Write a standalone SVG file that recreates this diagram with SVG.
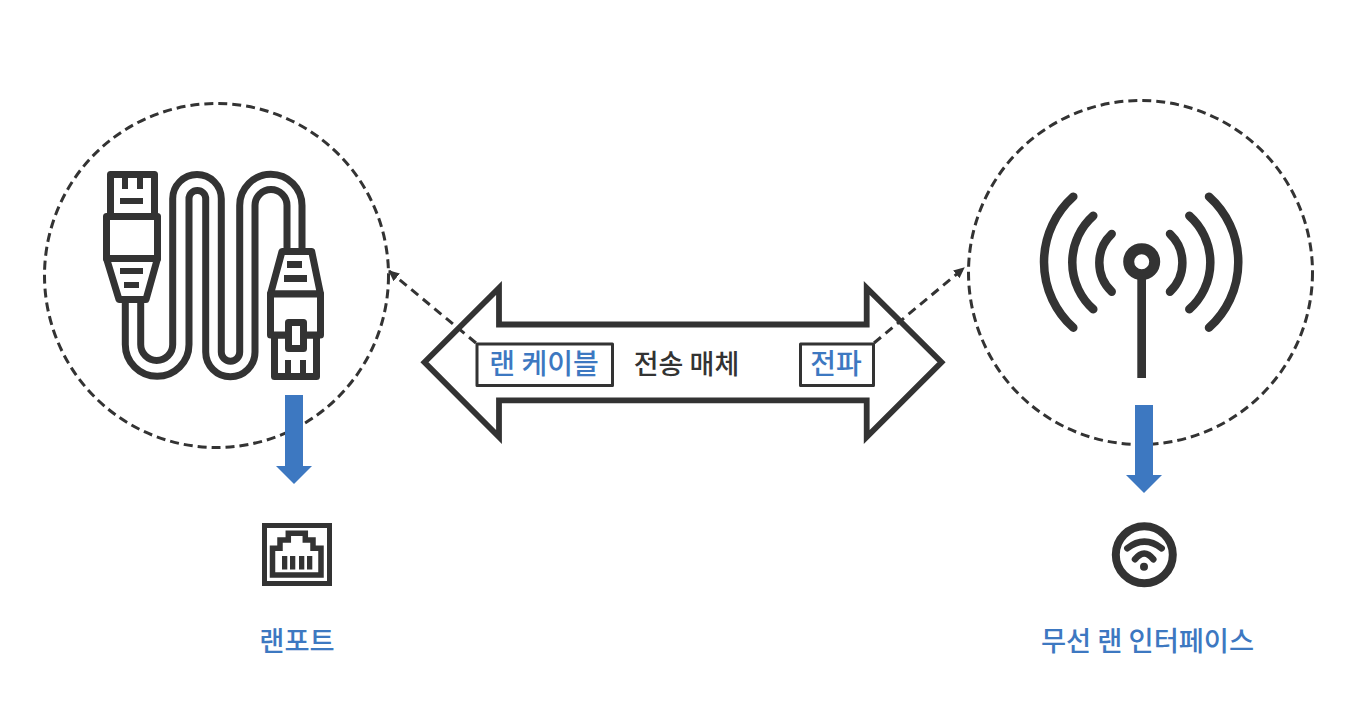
<svg xmlns="http://www.w3.org/2000/svg" width="1367" height="714" viewBox="0 0 1367 714">
<style>
text{font-family:"Noto Sans CJK KR","Noto Sans",sans-serif;text-anchor:middle;dominant-baseline:central}
.blue{fill:#3d78c1;font-weight:500}
.dark{fill:#333;font-weight:500}
.l{font-size:28px}
.s{font-size:27px}
.m{font-size:27.3px}
.ring{fill:none;stroke:#333;stroke-width:3;stroke-dasharray:9 5}
.ic{fill:none;stroke:#333;stroke-width:7;stroke-linejoin:round}
.w{fill:#fff;stroke:#333;stroke-width:7;stroke-linejoin:round}
.bar{fill:#333;stroke:none}
.box{fill:#fff;stroke:#333;stroke-width:3;stroke-linejoin:round}
.wave{fill:none;stroke:#333;stroke-width:8.5;stroke-linecap:round}
.dash{fill:none;stroke:#333;stroke-width:3;stroke-dasharray:9 6;marker-end:url(#ah)}
.ba{fill:#3d78c1;stroke:none}
</style>
<defs>
<marker id="ah" markerUnits="userSpaceOnUse" markerWidth="12" markerHeight="10" refX="10" refY="5" orient="auto"><path d="M0 0L11 5L0 10Z" fill="#333"/></marker>
</defs>
<rect width="1367" height="714" fill="#fff"/>
<g id="cable-node">
<circle class="ring" cx="216.5" cy="275.5" r="172"/>
<g id="cable-icon">
<path class="ic" d="M125.3 300V344.5A31.85 31.85 0 0 0 189 344.5V198.8A8.35 8.35 0 0 1 205.7 198.8V352A24.65 24.65 0 0 0 255 352V205.5A16 16 0 0 1 287 205.5V252"/>
<path class="ic" d="M140.7 300V344.5A16 16 0 0 0 172.7 344.5V198.8A24.3 24.3 0 0 1 221.3 198.8V352A9.2 9.2 0 0 0 239.7 352V205.5A31.15 31.15 0 0 1 302 205.5V252"/>
<path class="w" d="M110.5 216V174.5H154.5V216"/>
<path class="w" d="M106.5 258.5L119 299.5H146L157.5 258.5Z"/>
<rect class="w" x="106.500" y="216.500" width="51" height="42"/>
<rect class="bar" x="122" y="175" width="6" height="14"/>
<rect class="bar" x="137" y="175" width="6" height="14"/>
<rect class="bar" x="120" y="198" width="23" height="6"/>
<rect class="bar" x="120" y="268" width="23" height="6"/>
<rect class="bar" x="124" y="282" width="15" height="6"/>
<path class="w" d="M270.500 294L282 251.500H311.700L320.500 294Z"/>
<rect class="w" x="274.500" y="335" width="42" height="41.500"/>
<rect class="w" x="270.500" y="294" width="50" height="41"/>
<rect class="w" x="288.500" y="322.500" width="15" height="26"/>
<rect class="bar" x="287" y="261" width="15" height="7"/>
<rect class="bar" x="284" y="275" width="23" height="7"/>
<rect class="bar" x="285" y="360" width="6" height="14"/>
<rect class="bar" x="300" y="360" width="6" height="14"/>
</g>
</g>
<g id="radio-node">
<circle class="ring" cx="1140.500" cy="272.500" r="172"/>
<g id="antenna-icon">
<rect class="bar" x="1137.300" y="276" width="8.700" height="102"/>
<circle cx="1141.700" cy="261.700" r="13" fill="none" stroke="#333" stroke-width="11"/>
<path class="wave" d="M1111.700 234A39.800 39.800 0 0 0 1111.700 291.700"/>
<path class="wave" d="M1093.300 215.700A62.600 62.600 0 0 0 1093.300 309.300"/>
<path class="wave" d="M1073.300 196.700A87.900 87.900 0 0 0 1073.300 327.700"/>
<path class="wave" d="M1170 234A39.800 39.800 0 0 1 1170 291.700"/>
<path class="wave" d="M1189.300 215.700A62.600 62.600 0 0 1 1189.300 309.300"/>
<path class="wave" d="M1209 196.700A87.900 87.900 0 0 1 1209 327.700"/>
</g>
</g>
<g id="medium-node">
<polygon points="424.500,362.300 499,288 499,324.500 866.700,324.500 866.700,288 941.500,362.300 866.700,437 866.700,400.300 499,400.300 499,437" fill="#fff" stroke="#333" stroke-width="5.800"/>
<text class="dark s" x="686.500" y="362">전송 매체</text>
</g>
<g id="connectors">
<path class="dash" d="M476 343L389 271"/>
<path class="dash" d="M874 343L964 268"/>
<path class="ba" d="M285 395H303V466H312L294 484L276 466H285Z"/>
<path class="ba" d="M1135 405H1153V475H1162L1144 493L1126 475H1135Z"/>
</g>
<g id="lan-cable-label">
<rect class="box" x="477" y="344" width="135.500" height="41.500"/>
<text class="blue l" x="544" y="361.500">랜 케이블</text>
</g>
<g id="radio-wave-label">
<rect class="box" x="800.500" y="344" width="73" height="41.500"/>
<text class="blue l" x="836" y="361.500">전파</text>
</g>
<g id="lan-port-node">
<rect x="264.500" y="525.500" width="65" height="58" fill="none" stroke="#333" stroke-width="5"/>
<path d="M272.500 575V548.300H280V540H288.300V533.300H305.300V540H313V548.300H321V575Z" fill="none" stroke="#333" stroke-width="5.500"/>
<rect class="bar" x="282" y="556" width="5.300" height="13.500"/>
<rect class="bar" x="290" y="556" width="5.300" height="13.500"/>
<rect class="bar" x="299" y="556" width="5.300" height="13.500"/>
<rect class="bar" x="307" y="556" width="5.300" height="13.500"/>
<text class="blue m" x="297" y="638.500">랜포트</text>
</g>
<g id="wireless-node">
<circle cx="1144.300" cy="554.700" r="28.500" fill="none" stroke="#333" stroke-width="8"/>
<path d="M1127.300 548.300Q1144.300 535 1161.700 548.300" fill="none" stroke="#333" stroke-width="6.500" stroke-linecap="round"/>
<path d="M1135 559.300Q1144.300 547.500 1153.300 559.300" fill="none" stroke="#333" stroke-width="6.500" stroke-linecap="round"/>
<circle cx="1144" cy="566.700" r="4" fill="#333"/>
<text class="blue m" x="1147.500" y="638.500">무선 랜 인터페이스</text>
</g>
</svg>
